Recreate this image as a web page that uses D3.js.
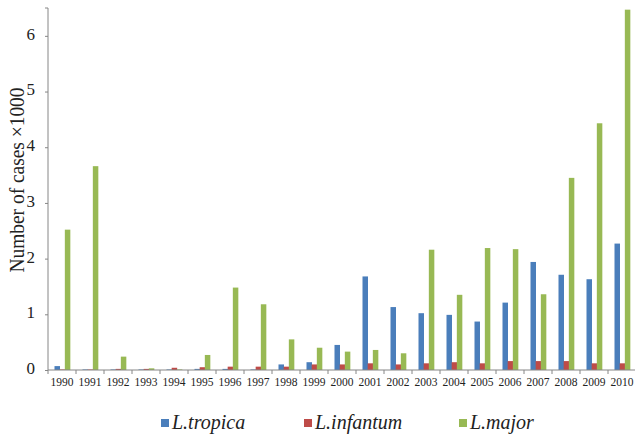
<!DOCTYPE html>
<html><head><meta charset="utf-8">
<script src="https://cdn.jsdelivr.net/npm/d3@7"></script>
<style>body{margin:0;background:#fff}svg{display:block} text{font-family:"Liberation Serif","DejaVu Serif",serif;}</style>
</head><body>
<script>
const years = ["1990","1991","1992","1993","1994","1995","1996","1997","1998","1999","2000","2001","2002","2003","2004","2005","2006","2007","2008","2009","2010"];
const tropica = [0.07,0.01,0.01,0.01,0.01,0.02,0.02,0.01,0.10,0.14,0.45,1.68,1.13,1.02,0.99,0.87,1.21,1.94,1.71,1.63,2.27];
const infantum = [0.01,0.01,0.02,0.02,0.04,0.05,0.06,0.06,0.06,0.10,0.10,0.12,0.10,0.12,0.14,0.12,0.16,0.16,0.16,0.12,0.12];
const major = [2.52,3.66,0.24,0.03,0.01,0.27,1.48,1.18,0.55,0.40,0.33,0.36,0.30,2.16,1.35,2.19,2.17,1.36,3.45,4.43,6.47];
const seriesNames = ["L.tropica","L.infantum","L.major"];
const colors = ["#4a7ebb","#be4b48","#98b954"];
const yTicks = [0,1,2,3,4,5,6];

const W = 635, H = 435;
const m = {left:48, right:-1, top:8, bottom:65};
const svg = d3.select("body").append("svg").attr("width",W).attr("height",H);
const x = d3.scaleBand().domain(years).range([m.left, W - m.right]).paddingInner(0).paddingOuter(0);
const y = d3.scaleLinear().domain([0,6.5]).range([H - m.bottom, m.top]);
const x1 = d3.scaleBand().domain(seriesNames).range([7, 21]).padding(0);

const series = [tropica, infantum, major];
const g = svg.append("g");
series.forEach((vals, si) => {
  g.selectAll(null).data(years).enter().append("rect")
    .attr("x", (d,i) => x(d) + x1(seriesNames[si]) - 0.5 + si*0.5)
    .attr("width", 5.5)
    .attr("y", (d,i) => y(vals[i]))
    .attr("height", (d,i) => y(0) - y(vals[i]))
    .attr("fill", colors[si]);
});

// x axis
const xAxis = svg.append("g").attr("transform",`translate(0,${y(0)})`);
xAxis.append("line").attr("x1",m.left).attr("x2",W).attr("stroke","#868686");
xAxis.selectAll(".tk").data(years.concat(["end"])).enter().append("line")
  .attr("x1",(d,i)=>m.left + i*x.bandwidth()).attr("x2",(d,i)=>m.left + i*x.bandwidth())
  .attr("y1",0).attr("y2",4).attr("stroke","#868686");
xAxis.selectAll("text").data(years).enter().append("text")
  .attr("x", d => x(d) + x.bandwidth()/2).attr("y", 16)
  .attr("text-anchor","middle").attr("font-size",11.5)
  .attr("fill","#222").text(d=>d);

// y axis
const yAxis = svg.append("g").attr("transform",`translate(${m.left},0)`)
  .call(d3.axisLeft(y).tickValues(yTicks).tickSize(3).tickFormat(d3.format("d")));
yAxis.attr("font-family",null);
yAxis.select(".domain").attr("stroke","#868686").attr("d",`M-3,${m.top}H0V${y(0)}`);
yAxis.selectAll(".tick line").attr("stroke","#868686");
yAxis.selectAll(".tick text").attr("font-size",17).attr("fill","#222").attr("x",-13).attr("dy","0.2em");

svg.append("text").attr("transform","translate(24,180) rotate(-90)")
  .attr("text-anchor","middle").attr("font-size",20)
  .attr("textLength",185).attr("lengthAdjust","spacingAndGlyphs")
  .attr("fill","#222").text("Number of cases \u00d71000");

// legend
const legX = [161, 304, 459];
const leg = svg.append("g");
seriesNames.forEach((n,i) => {
  leg.append("rect").attr("x",legX[i]).attr("y",419).attr("width",8).attr("height",8).attr("fill",colors[i]);
  leg.append("text").attr("x",legX[i]+11).attr("y",429)
    .attr("font-style","italic").attr("font-size",20).attr("fill","#222").text(n);
});
</script>
</body></html>
